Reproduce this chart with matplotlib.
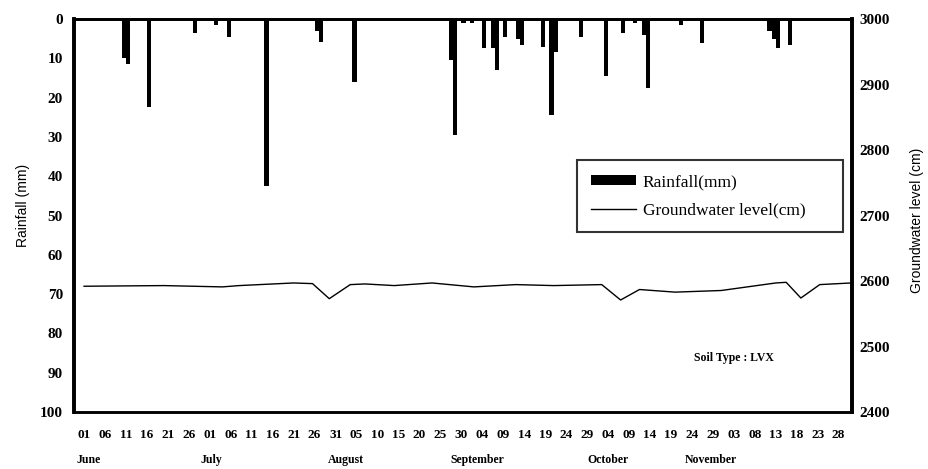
import numpy as np
import matplotlib.pyplot as plt

# days counted from 01 June
start = np.datetime64('2003-06-01')

rain_days = [9, 10, 15, 26, 31, 34, 43, 55, 56, 64, 87, 88, 90, 92, 95, 97, 98,
             100, 103, 104, 109, 111, 112, 118, 124, 128, 131, 133, 134, 142,
             147, 163, 164, 165, 168]
rain_mm = [10, 11.5, 22.5, 3.5, 1.5, 4.5, 42.5, 3, 5.8, 16, 10.5, 29.5, 1, 1,
           7.5, 7.5, 13, 4.5, 5, 6.5, 7, 24.5, 8.5, 4.5, 14.5, 3.5, 1, 4, 17.5,
           1.5, 6, 3, 5, 7.5, 6.5]

gw_days = [0, 19, 26, 33, 37, 50, 54.5, 58.5, 63.5, 67, 74, 83, 93, 103, 112,
           123.5, 128, 132.5, 141, 152, 165, 167.5, 171, 175.5, 183]
gw_cm = [2592, 2593, 2592, 2591, 2593, 2597, 2596, 2573, 2594.5, 2595.5, 2593,
         2597, 2591, 2594.5, 2593, 2594.5, 2571, 2587, 2583, 2585.5, 2597, 2598,
         2574, 2594.5, 2597]

tick_days = np.arange(0, 181, 5)
months = ['June', 'July', 'August', 'September', 'October', 'November']
month_x = [1, 30.3, 62.5, 93.8, 125, 149.6]

serif = 'Liberation Serif'
sans = 'Liberation Sans'

fig = plt.figure(figsize=(9.29, 4.69), dpi=100)
ax = fig.add_axes([74 / 929, 1 - 412 / 469, 778 / 929, 393 / 469])

ax.bar(rain_days, rain_mm, width=1.0, align='edge', color='black',
       label='Rainfall(mm)')
ax.set_ylim(100, 0)
ax.set_xlim(-2.4, 183.2)
ax.set_yticks(np.arange(0, 101, 10))

labels = [str((start + np.timedelta64(int(d), 'D')).astype(object).day).zfill(2)
          for d in tick_days]
ax.set_xticks(tick_days)
ax.set_xticklabels(labels)
for t in ax.get_xticklabels():
    t.set_fontfamily(serif)
    t.set_fontweight('bold')
    t.set_fontsize(9.5)
for t in ax.get_yticklabels():
    t.set_fontfamily(serif)
    t.set_fontweight('bold')
    t.set_fontsize(11)
ax.tick_params(axis='x', length=0, pad=12)
ax.tick_params(axis='y', length=0, pad=8)

ax2 = ax.twinx()
ax2.plot(gw_days, gw_cm, color='black', lw=1.0, label='Groundwater level(cm)')
ax2.set_ylim(2400, 3000)
ax2.set_yticks(np.arange(2400, 3001, 100))
for t in ax2.get_yticklabels():
    t.set_fontfamily(serif)
    t.set_fontweight('bold')
    t.set_fontsize(11)
ax2.tick_params(axis='y', length=0, pad=5)

for a in (ax, ax2):
    a.spines['left'].set_linewidth(2.6)
    a.spines['right'].set_linewidth(2.6)
    a.spines['top'].set_linewidth(2.0)
    a.spines['bottom'].set_linewidth(1.8)

for name, xm in zip(months, month_x):
    ax.text(xm, -0.122, name, transform=ax.get_xaxis_transform(),
            ha='center', va='center', fontfamily=serif, fontweight='bold',
            fontsize=8.5)

ax.text(0.848, 0.137, 'Soil Type : LVX', transform=ax.transAxes, ha='center',
        va='center', fontfamily=serif, fontweight='bold', fontsize=8.5)

fig.text(23 / 929, 1 - 205 / 469, 'Rainfall (mm)', rotation=90, ha='center',
         va='center', fontfamily=sans, fontsize=10)
fig.text(917 / 929, 1 - 220 / 469, 'Groundwater level (cm)', rotation=90,
         ha='center', va='center', fontfamily=sans, fontsize=10)

h1, l1 = ax.get_legend_handles_labels()
h2, l2 = ax2.get_legend_handles_labels()
leg = ax2.legend(h1 + h2, l1 + l2, loc='upper left',
                 bbox_to_anchor=(0.6465, 0.45, 0.342, 0.19), mode='expand',
                 prop={'family': serif, 'size': 12.5}, frameon=True,
                 fancybox=False, edgecolor='black', borderaxespad=0,
                 handlelength=2.6, handleheight=0.5, handletextpad=0.4,
                 borderpad=0.8, labelspacing=0.7)
leg.get_frame().set_linewidth(1.5)

fig.savefig('out.png', dpi=100)
